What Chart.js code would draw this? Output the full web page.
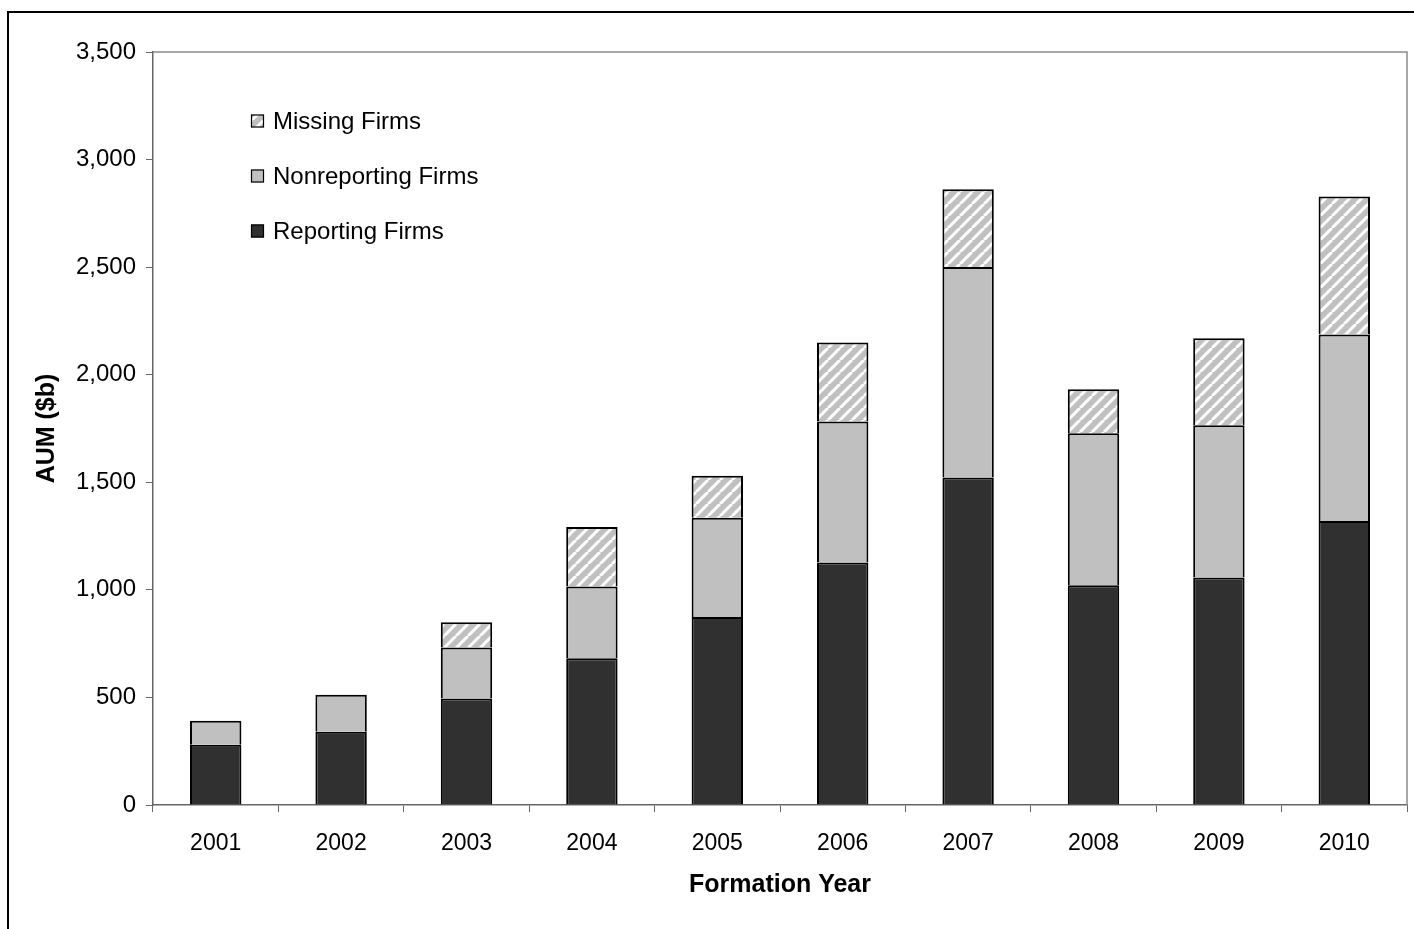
<!DOCTYPE html>
<html>
<head>
<meta charset="utf-8">
<script src="https://cdn.jsdelivr.net/npm/chart.js@4"></script>
<style>
  html, body { margin: 0; padding: 0; background: #ffffff; }
  #wrap { position: relative; width: 1414px; height: 929px; }
</style>
</head>
<body>
<div id="wrap"><canvas id="chart" width="1414" height="929"></canvas></div>
<script>
// AUM of funds by formation year, $b, split by reporting status
const years = ['2001', '2002', '2003', '2004', '2005', '2006', '2007', '2008', '2009', '2010'];
const reportingFirms    = [280, 341, 495, 682, 874, 1127, 1522, 1021, 1058, 1320];
const nonreportingFirms = [112, 172, 237, 334, 461, 656, 979, 707, 707, 867];
const missingFirms      = [null, null, 118, 276, 195, 367, 361, 205, 405, 641];
const yTicks = [0, 500, 1000, 1500, 2000, 2500, 3000, 3500];

const FONT = "'Liberation Sans', Arial, sans-serif";

// Grey fill crossed by white "/" stripes
function makeHatch() {
  const s = 12;
  const c = document.createElement('canvas');
  c.width = s; c.height = s;
  const g = c.getContext('2d');
  g.fillStyle = '#c0c0c0';
  g.fillRect(0, 0, s, s);
  g.strokeStyle = '#ffffff';
  g.lineWidth = 3;
  g.beginPath();
  for (let k = -1; k <= 1; k++) {
    g.moveTo(k * s, s);
    g.lineTo(k * s + s, 0);
  }
  g.stroke();
  return g.createPattern(c, 'repeat');
}

const ctx = document.getElementById('chart').getContext('2d');
const hatch = makeHatch();

// Frame around the figure, border of the plot area and the inset legend
const decorations = {
  id: 'decorations',
  afterDraw(chart) {
    const c = chart.ctx;
    const a = chart.chartArea;
    c.save();
    // outer frame
    c.strokeStyle = '#000000';
    c.lineWidth = 2;
    c.beginPath();
    c.moveTo(8, 929);
    c.lineTo(8, 12);
    c.lineTo(1414, 12);
    c.stroke();
    // plot area top and right edges
    c.strokeStyle = '#8a8a8a';
    c.lineWidth = 1.5;
    c.beginPath();
    c.moveTo(a.left, a.top);
    c.lineTo(a.right, a.top);
    c.lineTo(a.right, a.bottom);
    c.stroke();
    // legend (top series first)
    const items = chart.data.datasets.slice().reverse();
    const x0 = 251, y0 = 121, gap = 55, box = 13;
    c.font = '24px ' + FONT;
    c.textBaseline = 'middle';
    c.textAlign = 'left';
    items.forEach((ds, i) => {
      const y = y0 + i * gap;
      c.fillStyle = ds.backgroundColor;
      c.fillRect(x0, y - box / 2, box, box);
      c.strokeStyle = '#000000';
      c.lineWidth = 1.2;
      c.strokeRect(x0 + 0.5, y - box / 2 + 0.5, box - 1, box - 1);
      c.fillStyle = '#000000';
      c.fillText(ds.label, x0 + 22, y + 1);
    });
    c.restore();
  }
};

new Chart(ctx, {
  type: 'bar',
  data: {
    labels: years,
    datasets: [
      { label: 'Reporting Firms', data: reportingFirms, backgroundColor: '#303030' },
      { label: 'Nonreporting Firms', data: nonreportingFirms, backgroundColor: '#c0c0c0' },
      { label: 'Missing Firms', data: missingFirms, backgroundColor: hatch }
    ].map(d => Object.assign(d, {
      borderColor: '#000000',
      borderWidth: { top: 2, left: 2, right: 2, bottom: 0 },
      borderSkipped: false,
      barPercentage: 0.41,
      categoryPercentage: 1.0
    }))
  },
  options: {
    responsive: false,
    animation: false,
    devicePixelRatio: 1,
    layout: { padding: { top: 52, right: 7, bottom: 0, left: 0 } },
    plugins: {
      legend: { display: false },
      tooltip: { enabled: false }
    },
    scales: {
      x: {
        stacked: true,
        grid: { display: true, drawOnChartArea: false, drawTicks: true, tickLength: 7, color: '#666666', offset: true },
        border: { display: true, color: '#666666', width: 1.5 },
        ticks: { color: '#000000', font: { family: FONT, size: 23 }, padding: 18, maxRotation: 0 },
        title: {
          display: true, text: 'Formation Year', color: '#000000',
          font: { family: FONT, size: 25, weight: 'bold' },
          padding: { top: 0, bottom: 29 }
        },
        afterFit(scale) { scale.height = 929 - 805; }
      },
      y: {
        stacked: true,
        min: 0, max: 3500,
        afterBuildTicks(scale) { scale.ticks = yTicks.map(v => ({ value: v })); },
        grid: { display: true, drawOnChartArea: false, drawTicks: true, tickLength: 7, color: '#666666' },
        border: { display: true, color: '#666666', width: 1.5 },
        ticks: {
          color: '#000000', font: { family: FONT, size: 24 }, padding: 10,
          callback: v => Number(v).toLocaleString('en-US')
        },
        title: {
          display: true, text: 'AUM ($b)', color: '#000000',
          font: { family: FONT, size: 25, weight: 'bold' },
          padding: { top: 32, bottom: 0 }
        },
        afterFit(scale) { scale.width = 153; }
      }
    }
  },
  plugins: [decorations]
});
</script>
</body>
</html>
